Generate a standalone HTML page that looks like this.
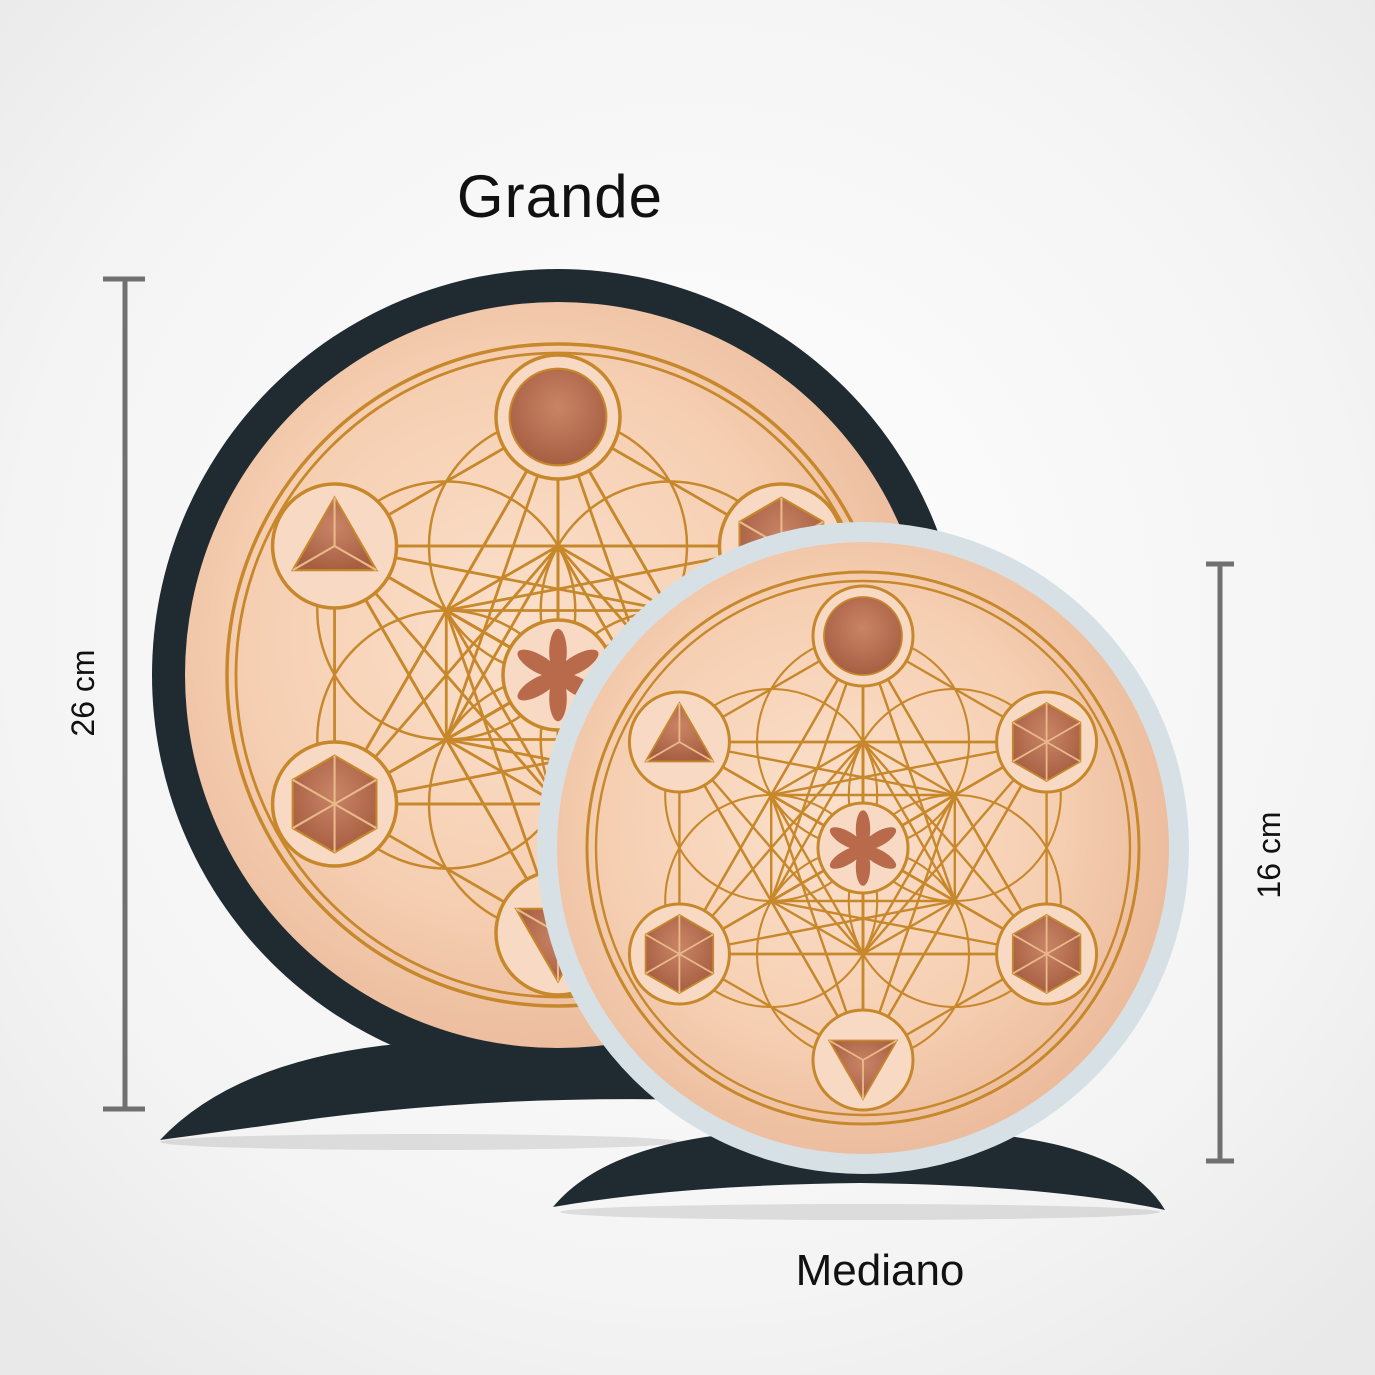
<!DOCTYPE html>
<html><head><meta charset="utf-8"><style>
html,body{margin:0;padding:0;width:1375px;height:1375px;overflow:hidden;background:#f3f3f3}
</style></head><body>
<svg id="s" width="1375" height="1375" viewBox="0 0 1375 1375" xmlns="http://www.w3.org/2000/svg">
<defs>
<radialGradient id="bg" cx="0.5" cy="0.45" r="0.7">
<stop offset="0" stop-color="#ffffff"/><stop offset="0.7" stop-color="#f4f4f4"/><stop offset="1" stop-color="#e9e9e9"/>
</radialGradient>
<radialGradient id="cu" cx="0.45" cy="0.45" r="0.6">
<stop offset="0" stop-color="#fbe0cb"/><stop offset="0.6" stop-color="#f6cfb2"/><stop offset="1" stop-color="#eab899"/>
</radialGradient>
<radialGradient id="so" cx="0.5" cy="0.4" r="0.6">
<stop offset="0" stop-color="#c98466"/><stop offset="1" stop-color="#a75f42"/>
</radialGradient>
</defs>
<rect width="1375" height="1375" fill="url(#bg)"/>
<ellipse cx="420" cy="1142" rx="260" ry="8" fill="#000" opacity="0.10"/>
<ellipse cx="860" cy="1212" rx="300" ry="8" fill="#000" opacity="0.10"/>
<!-- large stand -->
<path d="M160 1140 Q 240 1055 420 1042 L 700 1040 L 700 1100 Q 500 1095 320 1118 Q 220 1132 160 1140 Z" fill="#1f2b31"/>
<g id="big"></g>
<!-- small stand -->
<path d="M553 1207 Q 600 1150 720 1135 L 1000 1135 Q 1130 1150 1165 1210 Q 1050 1185 860 1183 Q 680 1185 553 1207 Z" fill="#1f2b31"/>
<g id="small"></g>
<!-- bars -->
<g stroke="#707070" stroke-width="5" fill="none">
<line x1="125" y1="279" x2="125" y2="1109"/><line x1="103" y1="279" x2="145" y2="279"/><line x1="103" y1="1109" x2="145" y2="1109"/>
<line x1="1220" y1="564" x2="1220" y2="1161"/><line x1="1206" y1="564" x2="1234" y2="564"/><line x1="1206" y1="1161" x2="1234" y2="1161"/>
</g>
<g font-family="'Liberation Sans',sans-serif" fill="#111">
<text x="560" y="217" font-size="60" text-anchor="middle" letter-spacing="1">Grande</text>
<text x="880" y="1285" font-size="44" text-anchor="middle">Mediano</text>
<text transform="translate(94,693) rotate(-90)" font-size="32" text-anchor="middle">26 cm</text>
<text transform="translate(1280,855) rotate(-90)" font-size="32" text-anchor="middle">16 cm</text>
</g>
</svg>
<script>
var NS="http://www.w3.org/2000/svg";
function el(p,t,a){var e=document.createElementNS(NS,t);for(var k in a)e.setAttribute(k,a[k]);p.appendChild(e);return e;}
function disc(g,cx,cy,ro,frame,rc,re,R,rs,rcent,sw){
 el(g,"circle",{cx:cx,cy:cy,r:ro,fill:frame});
 el(g,"circle",{cx:cx,cy:cy,r:rc,fill:"url(#cu)"});
 var L="#c7872b";
 el(g,"circle",{cx:cx,cy:cy,r:re,fill:"none",stroke:L,"stroke-width":sw});
 el(g,"circle",{cx:cx,cy:cy,r:re-9,fill:"none",stroke:L,"stroke-width":sw*0.8});
 var pts=[[cx,cy]];
 for(var i=0;i<6;i++){var a=(-90+60*i)*Math.PI/180;pts.push([cx+R/2*Math.cos(a),cy+R/2*Math.sin(a)]);}
 var outer=[];
 for(var i=0;i<6;i++){var a=(-90+60*i)*Math.PI/180;var p=[cx+R*Math.cos(a),cy+R*Math.sin(a)];pts.push(p);outer.push(p);}
 for(var i=0;i<pts.length;i++)for(var j=i+1;j<pts.length;j++)
  el(g,"line",{x1:pts[i][0],y1:pts[i][1],x2:pts[j][0],y2:pts[j][1],stroke:L,"stroke-width":sw*0.8});
 for(var i=1;i<7;i++)el(g,"circle",{cx:pts[i][0],cy:pts[i][1],r:R/2,fill:"none",stroke:L,"stroke-width":sw*0.7});
 outer.forEach(function(p,k){
  el(g,"circle",{cx:p[0],cy:p[1],r:rs,fill:"#f8d9c3",stroke:L,"stroke-width":sw});
  var r2=rs*0.78;
  if(k==0){el(g,"circle",{cx:p[0],cy:p[1],r:r2,fill:"url(#so)",stroke:L,"stroke-width":sw*0.6});}
  else{var n=(k==5?3:(k==3?3:6));var d="";
   for(var m=0;m<n;m++){var a=(-90+360/n*m+(k==3?180:0))*Math.PI/180;d+=(m?"L":"M")+(p[0]+r2*Math.cos(a))+" "+(p[1]+r2*Math.sin(a));}
   el(g,"path",{d:d+"Z",fill:"url(#so)",stroke:L,"stroke-width":sw*0.6});
   for(var m=0;m<n;m++){var a=(-90+360/n*m+(k==3?180:0))*Math.PI/180;
    el(g,"line",{x1:p[0],y1:p[1],x2:p[0]+r2*Math.cos(a),y2:p[1]+r2*Math.sin(a),stroke:"#e9b98a","stroke-width":sw*0.6});}
  }
 });
 el(g,"circle",{cx:cx,cy:cy,r:rcent,fill:"#f8d9c3",stroke:L,"stroke-width":sw});
 for(var i=0;i<6;i++){
  el(g,"ellipse",{cx:cx,cy:cy-rcent*0.42,rx:rcent*0.16,ry:rcent*0.42,fill:"#b86a4a",transform:"rotate("+(60*i)+" "+cx+" "+cy+")"});
 }
}
disc(document.getElementById("big"),558,675,406,"#1f2b31",373,331,258,62,55,3.5);
disc(document.getElementById("small"),863,848,326,"#d7e1e5",306,276,212,50,45,3);
</script>
</body></html>
